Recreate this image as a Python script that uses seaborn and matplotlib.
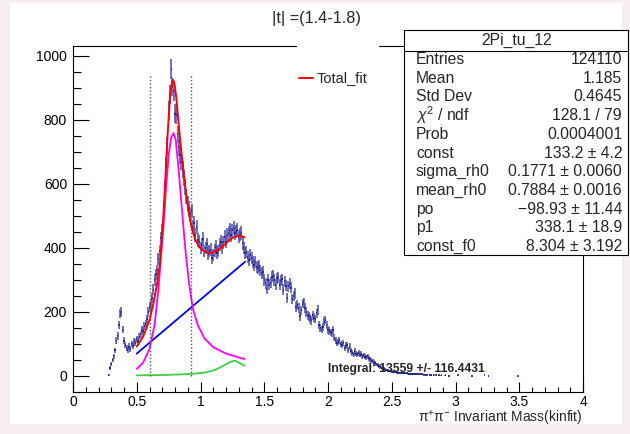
import numpy as np
import matplotlib
matplotlib.use("Agg")
import matplotlib.pyplot as plt
from matplotlib.patches import Rectangle
from matplotlib.lines import Line2D
from matplotlib.ticker import MultipleLocator
import seaborn as sns

# ---- histogram (bin centres and contents) ----
mass_bins = np.round(np.arange(0.28, 2.955, 0.01), 2)
counts = [
    3, 25, 38, 50, 62, 80, 110, 125, 160, 195,                 # 0.28-0.37
    200, 145, 110, 96, 88, 82, 92, 85, 100, 95,                # 0.38-0.47
    108, 104, 115, 110, 122, 130, 145, 140, 155, 162,          # 0.48-0.57
    178, 200, 215, 225, 245, 270, 300, 318, 330, 365,          # 0.58-0.67
    390, 430, 455, 520, 585, 660, 720, 830, 880, 958,          # 0.68-0.77
    905, 890, 820, 815, 755, 715, 690, 670, 645, 620,          # 0.78-0.87
    590, 560, 540, 525, 505, 515, 465, 478, 440, 465,          # 0.88-0.97
    425, 420, 400, 410, 428, 390, 400, 412, 382, 390,          # 0.98-1.07
    395, 370, 378, 392, 404, 385, 390, 410, 420, 402,          # 1.08-1.17
    418, 435, 420, 440, 447, 456, 440, 455, 462, 447,          # 1.18-1.27
    452, 456, 435, 442, 447, 415, 400, 384, 388, 372,          # 1.28-1.37
    362, 378, 369, 355, 347, 356, 340, 337, 344, 330,          # 1.38-1.47
    322, 325, 300, 290, 272, 300, 285, 292, 310, 312,          # 1.48-1.57
    300, 285, 305, 308, 285, 298, 302, 270, 296, 282,          # 1.58-1.67
    245, 280, 288, 276, 240, 250, 258, 215, 222, 212,          # 1.68-1.77
    186, 205, 226, 230, 212, 200, 190, 186, 180, 174,          # 1.78-1.87
    190, 182, 178, 196, 206, 160, 150, 145, 152, 170,          # 1.88-1.97
    175, 160, 144, 140, 136, 134, 144, 120, 112, 103,          # 1.98-2.07
    106, 112, 100, 97, 103, 88, 95, 97, 82, 92,                # 2.08-2.17
    78, 72, 68, 78, 70, 68, 72, 66, 70, 62,                    # 2.18-2.27
    65, 60, 58, 62, 55, 52, 48, 46, 42, 40,                    # 2.28-2.37
    36, 34, 31, 28, 26, 24, 22, 20, 19, 17,                    # 2.38-2.47
    16, 15, 14, 13, 12, 12, 11, 10, 10, 9,                     # 2.48-2.57
    9, 9, 8, 8, 8, 7, 7, 7, 6, 6,                              # 2.58-2.67
    6, 6, 5, 5, 5, 5, 5, 4, 4, 4,                              # 2.68-2.77
    4, 0, 4, 3, 0, 3, 0, 3, 0, 2,                              # 2.78-2.87
    0, 2, 0, 0, 2, 0, 0, 1,                                    # 2.88-2.95
]
tail_bins = [3.02, 3.13, 3.23, 3.26, 3.49]
tail_counts = [2, 1, 2, 1, 1]

# ---- fit curves ----
total_fit_x = [0.50, 0.55, 0.60, 0.63, 0.66, 0.68, 0.70, 0.72, 0.74, 0.76, 0.775,
               0.785, 0.795, 0.81, 0.83, 0.85, 0.87, 0.89, 0.91, 0.93, 0.96, 0.99,
               1.02, 1.06, 1.10, 1.14, 1.18, 1.22, 1.26, 1.29, 1.32, 1.345]
total_fit_y = [92, 123, 175, 225, 290, 345, 440, 580, 740, 870, 915,
               925, 915, 870, 780, 700, 628, 560, 505, 465, 425, 403,
               392, 385, 386, 395, 407, 422, 434, 438, 437, 433]
rho_x = [0.50, 0.55, 0.60, 0.64, 0.67, 0.69, 0.71, 0.73, 0.75, 0.77, 0.788, 0.805,
         0.825, 0.845, 0.865, 0.885, 0.91, 0.94, 0.98, 1.03, 1.10, 1.20, 1.345]
rho_y = [22, 42, 85, 160, 270, 375, 470, 590, 690, 745, 759, 740,
         660, 565, 470, 380, 290, 210, 158, 118, 90, 70, 53]
bkg_x = [0.50, 1.35]
bkg_y = [70, 357]
f0_x = [0.50, 0.70, 0.85, 0.95, 1.02, 1.07, 1.12, 1.16, 1.20, 1.24, 1.27, 1.30, 1.345]
f0_y = [2, 3, 5, 7, 10, 14, 20, 28, 37, 45, 48, 42, 32]

window_edges = [0.604, 0.923]
window_top = 945

xtick_vals = [0, 0.5, 1, 1.5, 2, 2.5, 3, 3.5, 4]
xtick_labels = ["0", "0.5", "1", "1.5", "2", "2.5", "3", "3.5", "4"]
ytick_vals = [0, 200, 400, 600, 800, 1000]

stat_title = "2Pi_tu_12"
stat_labels = ["Entries", "Mean", "Std Dev", r"$\chi^{2}$ / ndf", "Prob", "const",
               "sigma_rh0", "mean_rh0", "po", "p1", "const_f0"]
stat_values = ["124110", "1.185", "0.4645", "128.1 / 79", "0.0004001",
               "133.2 \u00b1 4.2", "0.1771 \u00b1 0.0060", "0.7884 \u00b1 0.0016",
               "\u221298.93 \u00b1 11.44", "338.1 \u00b1 18.9", "8.304 \u00b1 3.192"]

sns.set_theme(style="ticks", rc={
    "xtick.bottom": True, "xtick.top": False,
    "ytick.left": True, "ytick.right": False,
    "xtick.direction": "in", "ytick.direction": "in",
    "xtick.color": "black", "ytick.color": "black",
    "axes.edgecolor": "black", "axes.linewidth": 0.8,
    "axes.axisbelow": False,
})
plt.rcParams["font.family"] = ["Liberation Sans", "DejaVu Sans"]
plt.rcParams["mathtext.fontset"] = "custom"
plt.rcParams["mathtext.rm"] = "Liberation Sans"
plt.rcParams["mathtext.it"] = "Liberation Sans:italic"

W, H = 630, 434
fig = plt.figure(figsize=(W / 100, H / 100), dpi=100, facecolor="#f5edf0")


def fx(px):
    return px / W


def fy(py):
    return 1 - py / H


# white pad
fig.patches.append(Rectangle((fx(10), fy(424)), fx(612), 421 / H,
                             transform=fig.transFigure, facecolor="white",
                             edgecolor="none", zorder=-10))

ax = fig.add_axes([fx(73), fy(392), fx(510), 346 / H])
ax.set_facecolor("white")

# data with errors (empty bins are not drawn)
counts_arr = np.array(counts, dtype=float)
filled = counts_arr > 0
x_f = mass_bins[filled]
y_f = counts_arr[filled]
ax.errorbar(x_f, y_f, yerr=np.sqrt(y_f), fmt="none", ecolor="#5050b0",
            elinewidth=1.4, alpha=0.8, zorder=2)
ax.errorbar(x_f, y_f, xerr=0.005, fmt="none", ecolor="#1c1c80",
            elinewidth=1.2, zorder=2)
ax.errorbar(tail_bins, tail_counts, xerr=0.005, fmt="none", ecolor="#1c1c80",
            elinewidth=1.2, zorder=2)

# fit components
sns.lineplot(x=bkg_x, y=bkg_y, ax=ax, color="#0000ff", lw=1.3, zorder=3)
sns.lineplot(x=rho_x, y=rho_y, ax=ax, color="#ff00ff", lw=1.3, zorder=3)
sns.lineplot(x=f0_x, y=f0_y, ax=ax, color="#3fcf3f", lw=1.3, zorder=3)
sns.lineplot(x=total_fit_x, y=total_fit_y, ax=ax, color="#ff0000", lw=1.4, zorder=4)

for xe in window_edges:
    ax.plot([xe, xe], [0, window_top], color="#555555", lw=1.0, ls=(0, (1, 1.5)), zorder=3)

ax.text(2.0, 14, "Integral: 13559 +/- 116.4431", fontsize=8.7, fontweight="bold",
        ha="left", va="baseline", zorder=5)

ax.set_xlim(0, 4)
ax.set_ylim(-50, 1031)
ax.set_xticks(xtick_vals)
ax.set_xticklabels(xtick_labels)
ax.set_yticks(ytick_vals)
ax.xaxis.set_minor_locator(MultipleLocator(0.1))
ax.yaxis.set_minor_locator(MultipleLocator(50))
ax.tick_params(axis="x", which="major", direction="in", length=7.2, width=0.8,
               labelsize=10, pad=2.0, bottom=True, top=False, color="black")
ax.tick_params(axis="x", which="minor", direction="in", length=3.6, width=0.8,
               bottom=True, top=False, color="black")
ax.tick_params(axis="y", which="major", direction="in", length=11.5, width=0.8,
               labelsize=10, pad=4.3, left=True, right=False, color="black")
ax.tick_params(axis="y", which="minor", direction="in", length=5.8, width=0.8,
               left=True, right=False, color="black")
for s in ax.spines.values():
    s.set_visible(True)
    s.set_color("black")
    s.set_linewidth(0.8)

ax.set_xlabel("")
ax.set_ylabel("")
fig.text(fx(583), fy(419), r"$\mathrm{\pi^{+}\pi^{-}}$ Invariant Mass(kinfit)",
         ha="right", va="center", fontsize=10)

# title
fig.text(fx(316), fy(18), "|t| =(1.4-1.8)", ha="center", va="center", fontsize=11.7)

# legend box (white, no border) covering the frame
ax.add_patch(Rectangle((fx(297), fy(116)), fx(82), 76 / H, transform=fig.transFigure,
                       facecolor="white", edgecolor="none", clip_on=False, zorder=5))
ax.add_line(Line2D([fx(299), fx(313)], [fy(77.7), fy(77.7)], transform=fig.transFigure,
                   color="#ff0000", lw=1.4, clip_on=False, zorder=6))
ax.text(fx(317), fy(77.7), "Total_fit", transform=fig.transFigure, fontsize=10.5,
        ha="left", va="center", zorder=6, clip_on=False)

# stats box
bx0, by0, bx1, by1 = 404, 30, 628, 255
ax.add_patch(Rectangle((fx(bx0), fy(by1)), fx(bx1 - bx0), (by1 - by0) / H,
                       transform=fig.transFigure, facecolor="white", edgecolor="black",
                       lw=0.8, clip_on=False, zorder=6))
ax.add_line(Line2D([fx(bx0), fx(bx1)], [fy(50.5), fy(50.5)], transform=fig.transFigure,
                   color="black", lw=0.8, clip_on=False, zorder=7))
ax.text(fx(517), fy(40), stat_title, transform=fig.transFigure, fontsize=11.3,
        ha="center", va="center", zorder=7)
for i, (lab, val) in enumerate(zip(stat_labels, stat_values)):
    yy = fy(59.5 + 18.7 * i)
    ax.text(fx(416), yy, lab, transform=fig.transFigure, fontsize=11.3,
            ha="left", va="center", zorder=7)
    ax.text(fx(622), yy, val, transform=fig.transFigure, fontsize=11.3,
            ha="right", va="center", zorder=7)

fig.savefig("out.png", dpi=100, facecolor=fig.get_facecolor())
